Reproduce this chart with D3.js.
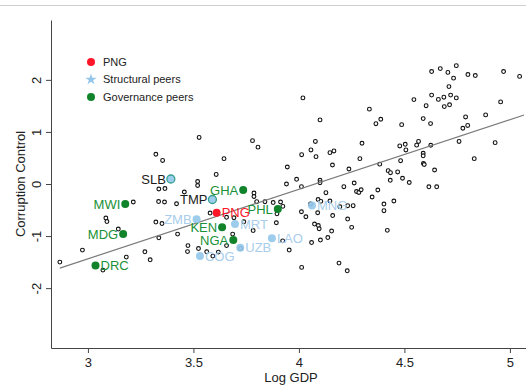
<!DOCTYPE html>
<html>
<head>
<meta charset="utf-8">
<script src="https://cdn.jsdelivr.net/npm/d3@7"></script>
<style>
  body { margin: 0; background: #fff; }
  svg { display: block; font-family: "Liberation Sans", Arial, Helvetica, sans-serif; }
</style>
</head>
<body>
<div id="chart"></div>
<script>
// All countries: log GDP per capita vs control of corruption
const logGdp = [
  2.867, 2.974, 3.071, 3.085, 3.090, 3.144, 3.182, 3.215, 3.270, 3.295,
  3.322, 3.354, 3.336, 3.365, 3.335, 3.363, 3.420, 3.322, 3.351, 3.336,
  3.425, 3.457, 3.520, 3.520, 3.527, 3.474, 3.472, 3.524, 3.563, 3.579,
  3.608, 3.592, 3.618, 3.657, 3.686, 3.723, 3.645, 3.657, 3.692, 3.739,
  3.783, 3.787, 3.787, 3.780, 3.806, 3.800, 3.839, 3.878, 3.913, 3.924,
  3.896, 3.893, 3.923, 3.954, 3.941, 3.945, 3.989, 4.012, 4.019, 4.013,
  4.057, 4.078, 4.081, 4.100, 4.100, 4.100, 4.128, 4.091, 4.104, 4.147,
  4.055, 4.012, 4.033, 4.089, 4.160, 4.074, 4.092, 4.096, 4.155, 4.137,
  4.102, 4.060, 4.013, 4.190, 4.229, 4.231, 4.250, 4.194, 4.231, 4.257,
  4.147, 4.166, 4.159, 4.213, 4.237, 4.262, 4.273, 4.284, 4.295, 4.289,
  4.299, 4.334, 4.365, 4.388, 4.383, 4.374, 4.347, 4.403, 4.403, 4.450,
  4.419, 4.423, 4.434, 4.468, 4.433, 4.491, 4.523, 4.482, 4.478, 4.504,
  4.507, 4.487, 4.545, 4.567, 4.558, 4.589, 4.589, 4.590, 4.594, 4.625,
  4.643, 4.616, 4.653, 4.589, 4.624, 4.603, 4.629, 4.661, 4.687, 4.719,
  4.746, 4.689, 4.714, 4.711, 4.629, 4.670, 4.706, 4.746, 4.733, 4.801,
  4.836, 4.970, 5.046, 4.956, 4.790, 4.885, 4.800, 4.777, 4.759, 4.930,
  4.831
];
const corruption = [
  -1.500, -1.270, -1.654, -0.654, -0.721, -0.865, -1.404, -0.346, -1.302, -1.456,
  0.571, 0.452, -0.096, -0.087, -0.337, -0.346, -0.379, -0.731, -0.760, -1.033,
  -0.962, -0.154, 0.048, -0.029, 0.894, -1.183, -1.298, -1.240, -1.302, -0.558,
  0.183, -1.385, -1.308, -1.183, -0.962, -1.237, 0.487, -0.640, -0.648, -0.725,
  -0.894, -0.173, -0.240, 0.833, 0.708, -0.340, -0.340, -0.356, -0.346, -0.429,
  -0.573, -0.744, -1.092, -1.269, 0.000, 0.327, 0.090, -0.052, 1.654, 0.563,
  0.654, 0.817, 0.525, 1.231, 0.071, 0.025, -0.167, -0.298, -0.333, -0.327,
  -0.385, -0.533, -0.629, -0.552, -0.606, -0.769, -0.798, -0.860, -0.904, -1.029,
  -1.077, -1.125, -1.602, -1.519, -1.667, -0.673, -0.833, -0.437, -0.417, -0.417,
  0.602, 0.635, 0.365, -0.052, 0.288, 0.019, -0.144, -0.163, -0.110, 0.487,
  0.783, 1.438, 1.158, 1.244, 0.381, -0.115, -0.250, -0.385, -0.513, -0.327,
  -0.890, 0.256, 0.217, 0.231, 0.071, 0.110, 0.029, 0.448, 0.731, 0.763,
  0.654, 1.140, 1.621, 0.817, 0.746, 0.590, 0.542, 0.394, 0.375, 0.744,
  0.269, -0.054, -0.054, 1.256, 1.160, 1.504, 1.708, 1.625, 1.667, 1.708,
  1.654, 1.487, 1.521, 1.871, 2.160, 2.217, 2.144, 2.273, 2.033, 2.102,
  2.083, 2.160, 2.067, 1.577, 1.288, 1.327, 1.125, 1.071, 0.817, 0.794,
  0.487
];

// Highlighted countries
const peerCodes = ['SLB', 'TMP', 'ZMB', 'MRT', 'UZB', 'LAO', 'MNG', 'COG',
                   'GHA', 'PHL', 'KEN', 'NGA', 'MWI', 'MDG', 'DRC', 'PNG'];
const peerGdp = [3.393, 3.590, 3.515, 3.697, 3.722, 3.872, 4.062, 3.531,
                 3.736, 3.900, 3.636, 3.689, 3.177, 3.167, 3.036, 3.610];
const peerCc = [0.096, -0.298, -0.679, -0.769, -1.225, -1.044, -0.413, -1.385,
                -0.115, -0.481, -0.833, -1.077, -0.385, -0.962, -1.563, -0.552];
const peerGroup = ['structural', 'structural', 'structural', 'structural', 'structural',
                   'structural', 'structural', 'structural', 'governance', 'governance',
                   'governance', 'governance', 'governance', 'governance', 'governance', 'png'];

// Fitted line: corruption = intercept + slope * logGdp
const fitIntercept = -5.445;
const fitSlope = 1.336;
const fitRange = [2.867, 5.067];

const xTicks = [3, 3.5, 4, 4.5, 5];
const yTicks = [-2, -1, 0, 1, 2];
const legendLabels = ['PNG', 'Structural peers', 'Governance peers'];
const legendGroups = ['png', 'structural', 'governance'];

const width = 526;
const height = 389;
const leftLabels = new Set(['SLB', 'TMP', 'ZMB', 'GHA', 'PHL', 'KEN', 'NGA', 'MWI', 'MDG']);

const markFill = { png: '#ff1628', structural: '#93c6ea', governance: '#11832a' };
const textFill = { png: '#ff1628', structural: '#a9cdea', governance: '#1a9138' };

const svg = d3.select('#chart').append('svg')
  .attr('width', width)
  .attr('height', height);

// thin separator at the top
svg.append('line')
  .attr('x1', 0).attr('x2', width)
  .attr('y1', 5.5).attr('y2', 5.5)
  .attr('stroke', '#cfcfcf');

const x = d3.scaleLinear().domain([2.825, 5.1]).range([51, 531]);
const y = d3.scaleLinear().domain([-3.15, 3.15]).range([348, 20]);

// axes
const xAxis = svg.append('g')
  .attr('transform', `translate(0,${y.range()[0]})`)
  .call(d3.axisBottom(x).tickValues(xTicks).tickFormat(String).tickSize(5).tickSizeOuter(0).tickPadding(5));
xAxis.selectAll('text').attr('font-size', 13).attr('fill', '#222').attr('font-family', null);

const yAxis = svg.append('g')
  .attr('transform', `translate(${x.range()[0]},0)`)
  .call(d3.axisLeft(y).tickValues(yTicks).tickFormat(String).tickSize(5).tickSizeOuter(0));
yAxis.selectAll('text')
  .attr('font-size', 13).attr('fill', '#222').attr('font-family', null)
  .attr('transform', 'rotate(-90)')
  .attr('text-anchor', 'middle')
  .attr('x', 0).attr('y', -10).attr('dy', 0);

svg.selectAll('.domain, .tick line').attr('stroke', '#444');

svg.append('text')
  .attr('x', d3.mean(x.range()))
  .attr('y', 382)
  .attr('text-anchor', 'middle')
  .attr('font-size', 13)
  .attr('fill', '#222')
  .text('Log GDP');

svg.append('text')
  .attr('transform', `translate(25,${d3.mean(y.range())}) rotate(-90)`)
  .attr('text-anchor', 'middle')
  .attr('font-size', 13)
  .attr('fill', '#222')
  .text('Corruption Control');

// all countries
const points = logGdp.map((g, i) => ({ g, c: corruption[i] }));
svg.append('g')
  .selectAll('circle')
  .data(points)
  .enter().append('circle')
  .attr('cx', d => x(d.g))
  .attr('cy', d => y(d.c))
  .attr('r', 1.9)
  .attr('fill', '#fff')
  .attr('stroke', '#111')
  .attr('stroke-width', 1.1);

// fitted line
svg.append('line')
  .attr('x1', x(fitRange[0])).attr('y1', y(fitIntercept + fitSlope * fitRange[0]))
  .attr('x2', x(fitRange[1])).attr('y2', y(fitIntercept + fitSlope * fitRange[1]))
  .attr('stroke', '#7a7a7a')
  .attr('stroke-width', 1.2);

// highlighted countries
const peers = peerCodes.map((code, i) => ({ code, g: peerGdp[i], c: peerCc[i], group: peerGroup[i] }));

svg.append('g')
  .selectAll('circle')
  .data(peers)
  .enter().append('circle')
  .attr('cx', d => x(d.g))
  .attr('cy', d => y(d.c))
  .attr('r', 4)
  .attr('fill', d => markFill[d.group])
  .attr('fill-opacity', d => d.group === 'structural' ? 0.9 : 1)
  .attr('stroke', d => (d.code === 'SLB' || d.code === 'TMP') ? '#35a08c' : 'none')
  .attr('stroke-width', 1.3);

svg.append('g')
  .selectAll('text')
  .data(peers)
  .enter().append('text')
  .attr('x', d => x(d.g) + (leftLabels.has(d.code) ? -5 : 5))
  .attr('y', d => y(d.c))
  .attr('dy', '0.36em')
  .attr('text-anchor', d => leftLabels.has(d.code) ? 'end' : 'start')
  .attr('font-size', 13)
  .attr('fill', d => (d.code === 'SLB' || d.code === 'TMP') ? '#1a1a1a' : textFill[d.group])
  .text(d => d.code);

// legend
const legend = svg.append('g').attr('transform', 'translate(91,62)');
legendLabels.forEach((label, i) => {
  const row = legend.append('g').attr('transform', `translate(0,${i * 17.5})`);
  if (legendGroups[i] === 'structural') {
    row.append('path')
      .attr('d', d3.symbol(d3.symbolStar, 40)())
      .attr('fill', markFill.structural);
  } else {
    row.append('circle').attr('r', 4).attr('fill', markFill[legendGroups[i]]);
  }
  row.append('text')
    .attr('x', 12)
    .attr('dy', '0.35em')
    .attr('font-size', 11)
    .attr('fill', '#222')
    .text(label);
});
</script>
</body>
</html>
